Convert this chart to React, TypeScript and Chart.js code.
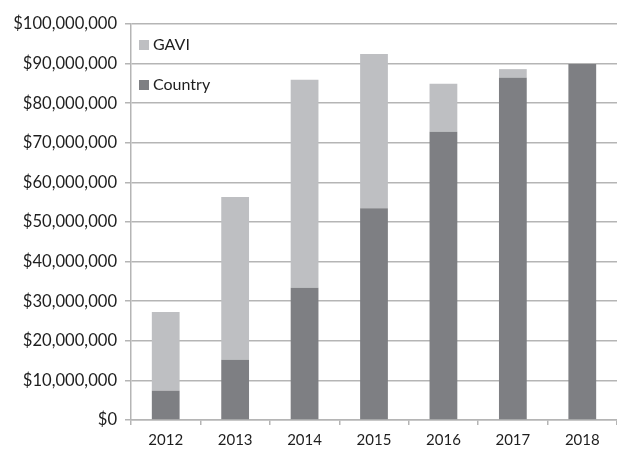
import React, { useEffect, useRef } from "react";
import { Chart, registerables } from "chart.js";

Chart.register(...registerables);

const years = ["2012", "2013", "2014", "2015", "2016", "2017", "2018"];
const countryValues = [7.4e6, 15.2e6, 33.4e6, 53.5e6, 72.8e6, 86.4e6, 89.9e6];
const gaviValues = [19.9e6, 41.1e6, 52.5e6, 38.9e6, 12.1e6, 2.2e6, 0];
const yMin = 0;
const yMax = 100e6;
const yStep = 10e6;

const FONT = "Lato, 'Open Sans', sans-serif";
const TEXT = "#1e1e1e";
const GRID = "#b5b5b5";

const insideLegend = {
  id: "insideLegend",
  afterDraw(chart: any) {
    const ctx = chart.ctx;
    const area = chart.chartArea;
    const ds = [...chart.data.datasets].reverse();
    ctx.save();
    ctx.font = `16px ${FONT}`;
    ctx.textBaseline = "middle";
    ds.forEach((d: any, i: number) => {
      const cy = area.top + 21 + i * 40;
      ctx.fillStyle = d.backgroundColor;
      ctx.fillRect(area.left + 8, cy - 5, 10, 10);
      ctx.fillStyle = TEXT;
      ctx.fillText(d.label, area.left + 22, cy);
    });
    ctx.restore();
  },
};

export default function App() {
  const ref = useRef<HTMLCanvasElement>(null);
  useEffect(() => {
    document.body.style.margin = "0";
    const chart = new Chart(ref.current!, {
      type: "bar",
      data: {
        labels: years,
        datasets: [
          { label: "Country", data: countryValues, backgroundColor: "#7e7f83" },
          { label: "GAVI", data: gaviValues, backgroundColor: "#bebfc2" },
        ],
      },
      plugins: [insideLegend],
      options: {
        animation: false,
        responsive: false,
        layout: { padding: { top: 24, right: 0, left: 0, bottom: 0 } },
        plugins: { legend: { display: false }, tooltip: { enabled: false } },
        datasets: { bar: { categoryPercentage: 1, barPercentage: 0.4 } },
        scales: {
          x: {
            stacked: true,
            afterFit: (s: any) => { s.height = 30; },
            grid: { offset: true, drawOnChartArea: false, drawTicks: true, tickLength: 5, color: GRID, lineWidth: 1.5 },
            border: { color: GRID, width: 1.5 },
            ticks: { color: TEXT, font: { family: FONT, size: 15 }, padding: 6 },
          },
          y: {
            stacked: true,
            min: yMin,
            max: yMax,
            afterFit: (s: any) => { s.width = 131; },
            grid: { color: GRID, lineWidth: 1.5, tickLength: 6 },
            border: { color: GRID, width: 1.5 },
            ticks: {
              stepSize: yStep,
              color: TEXT,
              padding: 8,
              font: { family: FONT, size: 16.6 },
              callback: (v: any) => "$" + Number(v).toLocaleString("en-US"),
            },
          },
        },
      },
    });
    return () => chart.destroy();
  }, []);
  return <canvas ref={ref} width={617} height={450} style={{ display: "block" }} />;
}
